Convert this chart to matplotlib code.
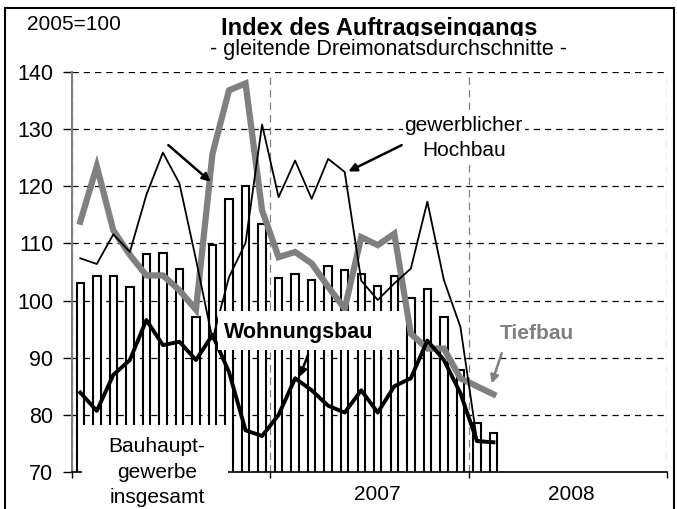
import matplotlib.pyplot as plt
from matplotlib.patches import Rectangle
import numpy as np

plt.rcParams['font.family'] = ['Liberation Sans', 'DejaVu Sans']

# monatliche Werte Jan 2006 - Feb 2008 (2005=100)
bauhaupt = [103.1, 104.3, 104.3, 102.4, 108.1, 108.3, 105.6, 97.2, 109.8, 117.8, 120.0, 113.4,
            103.9, 104.6, 103.6, 106.0, 105.3, 104.6, 102.5, 104.3, 100.4, 102.0, 97.2, 87.8,
            78.6, 76.9]
hochbau = [107.4, 106.4, 111.6, 108.5, 118.5, 125.9, 120.5, 107.2, 93.2, 104.1, 110.1, 130.8,
           118.1, 124.5, 117.8, 124.8, 122.5, 103.5, 100.1, 103.0, 105.6, 117.3, 103.6, 95.4,
           75.6, 75.3]
tiefbau = [113.8, 123.5, 112.3, 108.0, 104.4, 104.4, 101.8, 98.4, 125.7, 136.8, 138.0, 115.8,
           107.6, 108.5, 106.5, 102.4, 98.6, 111.1, 109.7, 111.7, 94.2, 91.6, 91.6, 86.4,
           85.0, 83.6]
wohnungsbau = [83.9, 80.7, 87.0, 89.6, 96.6, 92.2, 92.8, 89.6, 94.0, 87.5, 77.3, 76.3,
               80.0, 86.4, 84.3, 81.6, 80.4, 84.3, 80.4, 85.0, 86.4, 93.0, 89.6, 83.8,
               75.4, 75.2]
year_labels = ['2007', '2008']
yticks = [70, 80, 90, 100, 110, 120, 130, 140]

grey = '#808080'
x = np.arange(len(bauhaupt)) + 0.5

fig = plt.figure(figsize=(6.77, 5.09), dpi=100)
ax = fig.add_axes([72/677, 37/509, 595/677, 400/509])
ax.set_axisbelow(True)

ax.bar(x, bauhaupt, width=0.45, color='white', edgecolor='black', linewidth=1.5, zorder=2)
ax.plot(x, tiefbau, color=grey, lw=4.5, zorder=3, solid_joinstyle='miter')
ax.plot(x, hochbau, color='black', lw=1.3, zorder=3.5)
ax.plot(x, wohnungsbau, color='black', lw=2.8, zorder=4)

ax.set_xlim(0, 36)
ax.set_ylim(70, 140)
ax.set_yticks(yticks)
ax.set_xticks([0, 12, 24, 36])
ax.set_xticklabels([])
ax.set_xticks([18.5, 30.2], minor=True)
ax.set_xticklabels(year_labels, minor=True, fontsize=15)
ax.tick_params(axis='x', which='major', direction='out', length=4, width=1)
ax.tick_params(axis='x', which='minor', length=0, pad=9)
ax.tick_params(axis='y', direction='out', length=6.5, width=1, pad=7, labelsize=15.5)

ax.yaxis.grid(True, ls=(0, (5, 4)), color='black', lw=0.9)
ax.xaxis.grid(True, which='major', ls=(0, (6, 4)), color=grey, lw=0.9)
for s in ['top', 'right']:
    ax.spines[s].set_visible(False)
ax.spines['left'].set_color(grey)
ax.spines['left'].set_linewidth(1.5)
ax.spines['bottom'].set_linewidth(1.2)

# Beschriftungen
ax.text(23.7, 128.45, 'gewerblicher\nHochbau', ha='center', va='center',
        fontsize=15, linespacing=1.45, zorder=6,
        bbox=dict(boxstyle='square,pad=0.1', fc='white', ec='none'))
arrow = dict(arrowstyle='-|>', color='black', lw=1.8, mutation_scale=12, shrinkA=0, shrinkB=0)
ax.annotate('', xy=(16.72, 122.6), xytext=(19.95, 127.2), arrowprops=arrow, zorder=7)
ax.annotate('', xy=(8.39, 120.8), xytext=(5.83, 127.2), arrowprops=arrow, zorder=7)

ax.add_patch(Rectangle((8.83, 91.35), 11.13, 6.83, fc='white', ec='none', zorder=5))
ax.text(9.2, 93.45, 'Wohnungsbau', ha='left', va='baseline', fontsize=15.5,
        fontweight='bold', zorder=6)
ax.annotate('', xy=(13.76, 86.63), xytext=(14.28, 90.48), arrowprops=arrow, zorder=7)

ax.text(28.13, 94.3, 'Tiefbau', ha='center', va='center', fontsize=15,
        fontweight='bold', color=grey, zorder=6)
ax.annotate('', xy=(25.39, 85.5), xytext=(26.0, 90.8),
            arrowprops=dict(arrowstyle='-|>', color=grey, lw=1.8, mutation_scale=12,
                            shrinkA=0, shrinkB=0), zorder=7)

ax.add_patch(Rectangle((0.6, 60), 8.84, 18.2, fc='white', ec='none', zorder=5, clip_on=False))
ax.text(5.14, 70, 'Bauhaupt-\ngewerbe\ninsgesamt', ha='center', va='center', fontsize=15,
        linespacing=1.45, zorder=6, clip_on=False)

fig.text(27/677, 1 - 24/509, '2005=100', ha='left', va='center', fontsize=15)
fig.text(379/677, 1 - 35/509, 'Index des Auftragseingangs', ha='center', va='baseline',
         fontsize=17, fontweight='bold')
fig.text(388/677, 1 - 50/509, '- gleitende Dreimonatsdurchschnitte -', ha='center',
         va='center', fontsize=15.5,
         bbox=dict(boxstyle='square,pad=0.15', fc='white', ec='none'))

fig.patches.append(Rectangle((5/677, -0.01), 669/677, 1.01 - 8/509, transform=fig.transFigure,
                             fill=False, ec='black', lw=1.5))

fig.savefig('out.png', dpi=100)
